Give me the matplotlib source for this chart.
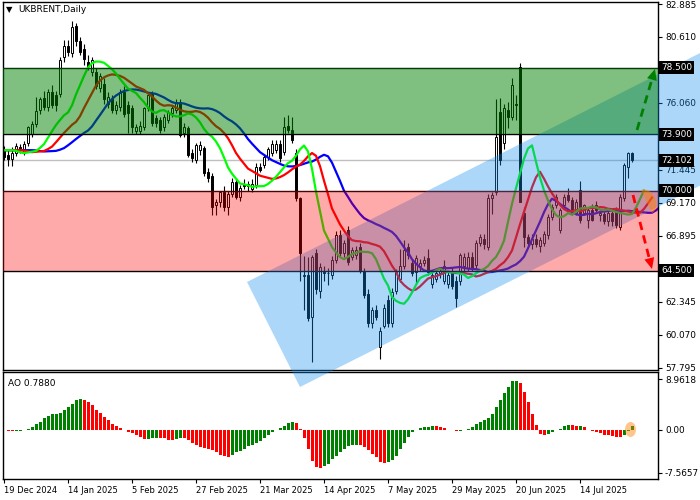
import numpy as np
import matplotlib
matplotlib.use('Agg')
import matplotlib.pyplot as plt
from matplotlib.patches import Polygon, Rectangle, Ellipse
from matplotlib.transforms import blended_transform_factory

plt.rcParams['font.family'] = ['DejaVu Sans']

# daily candles, bar 0 = 19 Dec 2024
opens = [
    72.9, 72.5, 72.2, 72.6, 73.0, 72.7, 73.3, 73.9, 74.6, 75.6,
    76.4, 75.8, 76.8, 76.6, 76.7, 79.2, 80.0, 79.5, 81.4, 80.3,
    79.8, 78.9, 78.2, 78.2, 77.1, 77.4, 76.0, 76.3, 75.6, 75.8,
    76.8, 75.9, 75.7, 74.1, 74.1, 74.4, 75.7, 76.7, 75.0, 74.9,
    74.4, 74.9, 75.35, 75.6, 76.15, 73.96, 74.3, 72.6, 72.15, 72.8,
    72.95, 71.3, 71.0, 69.0, 69.2, 69.9, 68.9, 69.8, 70.6, 69.6,
    70.5, 70.5, 70.1, 70.4, 71.65, 71.8, 72.35, 72.6, 72.8, 73.25,
    72.7, 74.5, 74.2, 72.6, 69.5, 64.1, 64.2, 61.3, 65.7, 63.1,
    64.4, 64.3, 64.2, 65.2, 66.95, 65.7, 67.3, 65.45, 65.6, 66.1,
    64.5, 62.9, 60.9, 61.8, 59.2, 60.7, 62.45, 60.9, 63.1, 63.9,
    64.8, 66.1, 65.0, 64.4, 64.8, 65.0, 65.35, 63.6, 63.9, 64.3,
    63.8, 63.6, 64.4, 63.8, 63.8, 64.8, 64.7, 65.4, 64.9, 66.4,
    66.7, 66.1, 69.5, 69.9, 75.45, 73.3, 75.6, 75.1, 76.0, 78.56,
    68.45, 66.8, 66.3, 66.7, 66.2, 66.4, 66.95, 68.2, 69.0, 67.3,
    69.0, 69.7, 69.35, 68.45, 70.05, 68.5, 68.0, 68.7, 69.0, 68.3,
    68.4, 67.9, 68.5, 68.55, 67.5, 69.5, 71.65, 72.6]
highs = [
    73.1, 72.8, 73.0, 73.3, 73.2, 73.4, 74.5, 74.8, 76.5, 76.5,
    76.9, 77.0, 77.3, 76.9, 79.2, 80.4, 80.4, 81.7, 81.6, 80.6,
    80.1, 79.4, 79.2, 78.5, 78.1, 77.8, 76.8, 76.6, 76.2, 77.0,
    77.2, 76.2, 75.9, 74.6, 74.8, 75.8, 76.8, 76.9, 75.2, 75.1,
    75.3, 75.6, 75.9, 76.3, 76.3, 74.7, 74.5, 72.9, 73.3, 73.4,
    73.1, 71.6, 71.2, 69.4, 70.0, 70.3, 70.0, 70.9, 70.8, 70.4,
    70.8, 70.7, 70.8, 71.9, 71.9, 72.5, 73.0, 73.5, 73.5, 73.5,
    75.1, 75.2, 75.1, 72.9, 69.6, 65.5, 65.4, 65.6, 66.0, 65.0,
    64.8, 64.7, 65.5, 67.2, 67.3, 66.6, 67.6, 66.1, 66.2, 66.4,
    64.7, 63.2, 62.0, 62.1, 60.6, 62.2, 62.8, 63.3, 64.6, 66.0,
    66.6, 66.4, 65.3, 65.6, 65.3, 65.5, 66.0, 64.4, 64.5, 64.6,
    65.2, 64.5, 64.7, 64.1, 65.7, 65.7, 65.8, 65.8, 66.6, 67.0,
    67.0, 69.8, 69.9, 76.3, 76.4, 76.0, 76.1, 77.8, 76.6, 78.8,
    68.9, 67.0, 67.0, 67.0, 66.8, 67.2, 68.4, 69.1, 69.8, 68.8,
    69.8, 70.2, 69.6, 69.4, 70.7, 69.1, 68.8, 69.1, 69.3, 68.7,
    68.7, 68.7, 68.8, 68.9, 69.8, 71.9, 72.7, 72.7]
lows = [
    72.1, 71.7, 71.7, 72.4, 72.6, 72.5, 73.1, 73.7, 74.4, 75.3,
    75.6, 75.5, 75.7, 75.5, 76.5, 78.9, 79.3, 79.2, 80.0, 79.4,
    78.7, 78.3, 77.9, 77.0, 76.8, 76.0, 75.7, 75.4, 75.3, 75.5,
    75.1, 74.0, 74.0, 73.9, 73.9, 74.2, 75.5, 74.5, 74.4, 74.0,
    74.1, 74.7, 75.1, 75.4, 73.7, 73.7, 72.3, 72.0, 71.9, 72.5,
    71.0, 70.6, 68.3, 68.3, 68.9, 68.6, 68.3, 69.6, 69.4, 69.3,
    70.1, 70.0, 69.9, 70.2, 71.3, 71.6, 72.1, 72.4, 72.6, 72.0,
    72.5, 74.0, 73.3, 69.3, 63.8, 61.8, 61.0, 58.2, 62.9, 62.6,
    63.8, 63.5, 63.9, 65.0, 65.5, 65.4, 64.9, 65.2, 65.3, 64.3,
    62.6, 60.6, 60.5, 61.1, 58.4, 60.5, 60.6, 60.6, 62.9, 63.7,
    64.6, 65.3, 64.1, 63.6, 64.5, 64.8, 64.2, 63.3, 63.7, 64.0,
    63.6, 63.3, 63.2, 62.0, 63.5, 64.5, 64.5, 64.5, 64.6, 66.2,
    66.0, 65.9, 68.4, 69.7, 71.8, 72.9, 74.3, 74.9, 74.9, 69.2,
    66.1, 66.1, 66.0, 66.1, 65.8, 66.2, 66.7, 68.0, 68.8, 67.1,
    68.8, 69.2, 68.3, 68.3, 67.8, 68.3, 67.4, 67.9, 68.5, 67.9,
    67.7, 67.6, 67.6, 67.4, 67.3, 69.3, 70.9, 72.0]
closes = [
    72.3, 72.2, 72.6, 73.1, 72.8, 73.2, 74.4, 74.6, 75.5, 76.3,
    75.8, 76.8, 75.9, 75.9, 79.0, 80.0, 79.6, 81.3, 80.3, 79.6,
    79.1, 78.6, 79.0, 77.2, 77.9, 76.3, 76.5, 75.6, 75.9, 76.8,
    75.3, 75.4, 74.4, 74.4, 74.5, 75.7, 76.6, 74.65, 74.65, 74.2,
    75.1, 75.45, 75.7, 76.15, 73.85, 74.4, 72.5, 72.25, 73.15, 73.15,
    71.2, 70.9, 68.9, 69.2, 69.9, 68.9, 69.8, 70.6, 69.6, 70.2,
    70.3, 70.3, 70.5, 71.65, 71.45, 72.35, 72.85, 73.25, 73.25, 72.25,
    74.4, 74.2, 73.5, 69.5, 65.7, 64.2, 61.2, 65.45, 63.2, 64.75,
    64.3, 64.35, 65.2, 66.95, 65.7, 66.4, 65.1, 65.9, 65.9, 64.5,
    62.8, 60.9, 61.8, 61.3, 60.3, 61.9, 60.9, 63.0, 64.4, 64.8,
    65.9, 65.55, 64.3, 65.35, 65.0, 65.2, 64.4, 64.2, 64.3, 64.45,
    64.8, 64.2, 63.4, 62.6, 65.55, 65.45, 65.45, 64.7, 66.4, 66.8,
    66.3, 69.5, 69.7, 73.7, 72.1, 75.7, 75.1, 77.3, 75.95, 69.25,
    66.8, 66.4, 66.7, 66.3, 66.6, 67.05, 68.2, 68.9, 69.6, 68.65,
    69.6, 69.35, 68.45, 69.25, 67.95, 69.0, 68.7, 68.0, 68.7, 68.5,
    67.9, 68.5, 67.9, 67.65, 69.6, 71.8, 72.6, 72.1]

start_level = 72.8   # level the indicators sit at before the first bar

date_ticks = [0, 16, 32, 48, 64, 80, 96, 112, 128, 144]
date_labels = ['19 Dec 2024', '14 Jan 2025', '5 Feb 2025', '27 Feb 2025', '21 Mar 2025',
               '14 Apr 2025', '7 May 2025', '29 May 2025', '20 Jun 2025', '14 Jul 2025']
price_ticks = [82.885, 80.610, 78.335, 76.060, 73.785, 71.445, 69.170, 66.895, 64.620, 62.345, 60.070, 57.795]
hidden_ticks = [78.335, 73.785, 64.620]   # sit under the level boxes
ao_ticks = [8.9618, 0.0, -7.5657]
ao_tick_labels = ['8.9618', '0.00', '-7.5657']
levels = [78.5, 73.9, 70.0, 64.5]
last_price = 72.102
ao_label = 'AO 0.7880'

o = np.array(opens); h = np.array(highs); l = np.array(lows); c = np.array(closes)
n = len(c)
idx = np.arange(n)
median = (h + l) / 2

W, H = 700, 500
def fp(x, y):
    return (x / W, 1 - y / H)

fig = plt.figure(figsize=(7, 5), dpi=100)
ax1 = fig.add_axes([3/W, 1-370/H, 655/W, 368/H])
ax2 = fig.add_axes([3/W, 1-479/H, 655/W, 107/H])
ax1.set_zorder(2)

# candles
ax1.vlines(idx, l, h, color='black', lw=0.8, zorder=2)
up = c >= o
ax1.bar(idx, np.maximum(np.abs(c - o), 0.04), bottom=np.minimum(o, c), width=0.72,
        color=np.where(up, 'white', 'black'), edgecolor='black', linewidth=0.7, zorder=2.1)

# alligator
pad = 40
hist = np.r_[[start_level]*pad, median]
def smma(x, k):
    out = np.empty(len(x)); s = x[0]
    for i, v in enumerate(x):
        s = (s*(k-1) + v) / k
        out[i] = s
    return out
xs = np.arange(-pad, n)
ax1.plot(xs + 8, smma(hist, 13), color='#0000ff', lw=1.6, zorder=2.3)
ax1.plot(xs + 5, smma(hist, 8), color='#ff0000', lw=1.6, zorder=2.3)
ax1.plot(xs + 3, smma(hist, 5), color='#00ff00', lw=1.6, zorder=2.3)

# levels
ax1.axhline(last_price, color='#c0c0c0', lw=1, zorder=1.5)
for v in levels:
    ax1.axhline(v, color='black', lw=1, zorder=2.5)

# blue channel (drawn in pixel space, runs off the plot)
chan = [fp(247, 282), fp(300, 387), fp(900, 85), fp(900, -48)]
blue = Polygon(chan, closed=True, transform=fig.transFigure, facecolor=(20/255, 143/255, 240/255),
               alpha=0.35, lw=0, zorder=3)
ax1.add_patch(blue); blue.set_clip_on(False)

# zones
ax1.add_patch(Rectangle((-5, levels[1]), 200, levels[0]-levels[1], facecolor=(0, 0.5, 0), alpha=0.5, lw=0, zorder=3.2))
ax1.add_patch(Rectangle((-5, levels[3]), 200, levels[2]-levels[3], facecolor='red', alpha=0.333, lw=0, zorder=3.2))

# arrows
def dashed_arrow(p0, p1, col):
    (x0, y0), (x1, y1) = p0, p1
    d = np.array([x1-x0, y1-y0], float); u = d / np.hypot(*d); nrm = np.array([-u[1], u[0]])
    base = np.array([x1, y1]) - u*11
    ln = plt.Line2D([x0/W, base[0]/W], [1-y0/H, 1-base[1]/H], transform=fig.transFigure,
                    color=col, lw=2, dashes=(3, 2), zorder=5)
    ax1.add_line(ln); ln.set_clip_on(False)
    tri = [fp(x1, y1), fp(*(base + nrm*5)), fp(*(base - nrm*5))]
    hd = Polygon(tri, closed=True, transform=fig.transFigure, facecolor=col, lw=0, zorder=5)
    ax1.add_patch(hd); hd.set_clip_on(False)
dashed_arrow((637, 130), (655, 69), '#008000')
dashed_arrow((633, 195), (652, 269), '#ff0000')

# orange mouth marker
m = np.array([646.5, 201.5]); hv = np.array([5.5, 11.5]); pv = np.array([11.5, -5.5])
pv = pv / np.hypot(*pv) * 9
t = np.linspace(0, np.pi, 30)
pts = [fp(*(m + np.cos(a)*hv + np.sin(a)*pv)) for a in t]
mouth = Polygon(pts, closed=True, transform=fig.transFigure, facecolor='#ff8000', alpha=0.5, lw=0, zorder=5)
ax1.add_patch(mouth); mouth.set_clip_on(False)

# price boxes
tr = blended_transform_factory(ax1.transAxes, ax1.transData)
for v in levels + [last_price]:
    ax1.text(1.005, v, f'{v:.3f}', transform=tr, color='white', fontsize=6.4, va='center', ha='left',
             bbox=dict(boxstyle='square,pad=0.25', fc='black', ec='none'), zorder=10, clip_on=False)

ax1.set_xlim(-0.25, 163.5)
ax1.set_ylim(57.636, 83.023)
ax1.set_yticks(price_ticks)
ax1.set_yticklabels(['' if v in hidden_ticks else f'{v:.3f}' for v in price_ticks])
ax1.set_xticks([])
ax1.tick_params(axis='y', left=False, right=True, labelleft=False, labelright=True,
                length=3, width=0.8, labelsize=6.4, pad=2)

fig.text(*fp(6, 10), '\u25bc', fontsize=6, va='center', ha='left')
fig.text(*fp(18, 10), 'UKBRENT,Daily', fontsize=6.5, va='center', ha='left')

# awesome oscillator
def sma(x, k):
    return np.convolve(x, np.ones(k)/k, mode='valid')
full = np.r_[[start_level]*34, median]
ao_full = sma(full, 5)[-(n+1):] - sma(full, 34)[-(n+1):]
ao = ao_full[1:]
ao_col = np.where(ao_full[1:] >= ao_full[:-1], '#008000', '#ff0000')
ax2.bar(idx, ao, width=0.75, color=ao_col, lw=0)
circ = Ellipse(fp(630.5, 429.5), 11/W, 15/H, transform=fig.transFigure,
               facecolor='#ff8000', alpha=0.45, lw=0, zorder=5)
fig.add_artist(circ)
fig.text(*fp(8, 384), ao_label, fontsize=6.5, va='center', ha='left')
ax2.set_xlim(-0.25, 163.5)
ax2.set_ylim(-8.68, 10.2)
ax2.set_yticks(ao_ticks)
ax2.set_yticklabels(ao_tick_labels)
ax2.set_xticks(date_ticks)
ax2.set_xticklabels(date_labels, ha='left')
ax2.tick_params(axis='y', left=False, right=True, labelleft=False, labelright=True,
                length=3, width=0.8, labelsize=6.4, pad=2)
ax2.tick_params(axis='x', length=3, width=0.8, labelsize=6.0, pad=2)

for ax in (ax1, ax2):
    for s in ax.spines.values():
        s.set_linewidth(1)
        s.set_color('black')

fig.savefig('out.png', dpi=100)
